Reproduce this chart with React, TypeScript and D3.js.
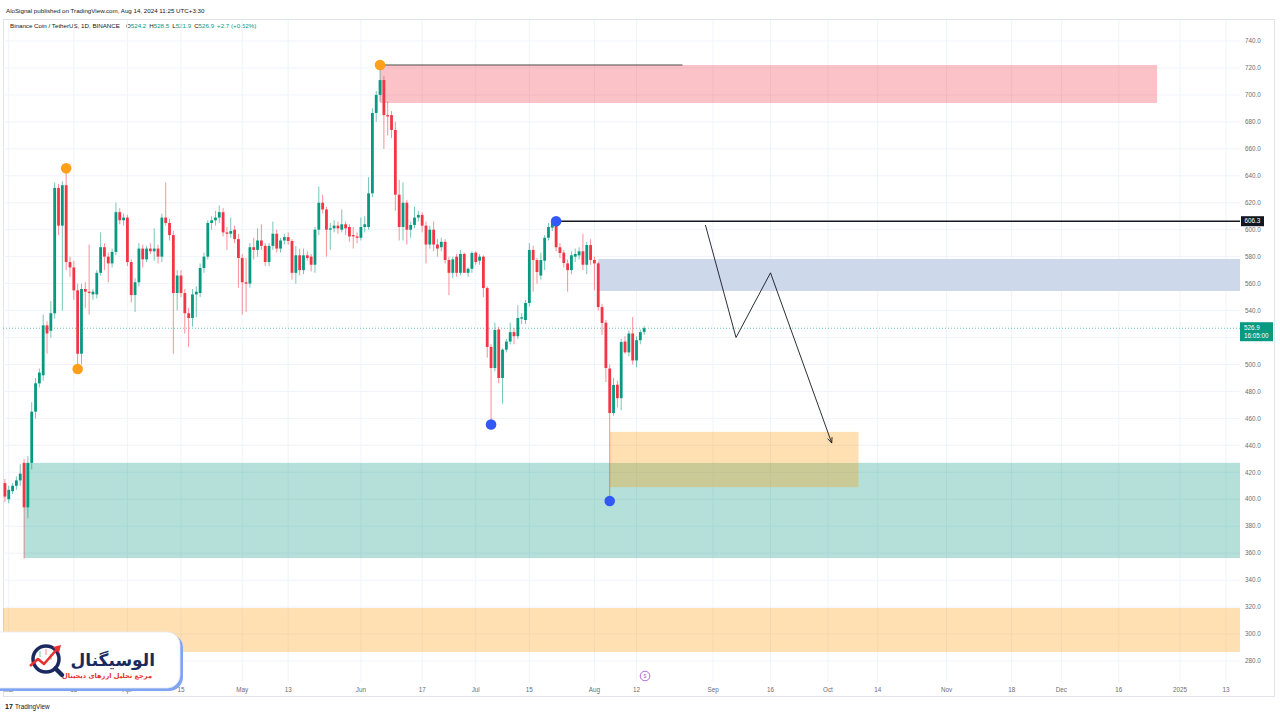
import React from "react";
import * as d3 from "d3";

// ---------- DATA ----------
const START_DATE = "2024-02-29"; // first daily candle
const OPEN = [
  412, 400, 406, 410, 414, 427, 394, 427, 465, 486, 492, 529, 525, 538, 631, 603, 633, 576, 572, 555,
  508, 556, 554, 552, 552, 568, 587, 580, 575, 583.5, 613, 607, 609, 576, 551.5, 561, 586, 578, 586, 584,
  586, 580, 609, 605, 596, 553, 566, 553, 538, 534.5, 552, 553, 571.6, 580, 605, 607, 609, 613, 598, 597,
  600, 593, 579, 561, 560, 587, 585, 592, 588, 576, 588, 597, 586, 592, 594.5, 591.6, 568, 581, 570, 581,
  580, 574, 600, 620, 615, 600, 601, 603, 600, 604, 602, 596, 595, 594, 602, 602, 627, 686.6, 700, 711,
  685, 685, 674, 626, 602, 620, 600, 603.5, 609, 611, 603, 589, 600, 589, 587, 591, 577.5, 568, 580, 568,
  582, 568, 571, 583, 577, 580, 556.7, 513, 497.4, 526, 490, 511, 517, 524, 521, 534, 533, 545.6, 585, 577.5,
  566, 577, 594, 601.5, 605, 587, 583, 575, 570, 580, 581, 584, 574, 588.6, 577.5, 575, 542.6, 531, 497, 464,
  485, 475, 517, 509, 523, 503, 518, 524.2,
];
const HIGH = [
  415, 410, 412, 417, 426, 430, 432, 472, 490, 497, 537, 532, 547, 635, 634, 636, 645, 580, 577, 560,
  560, 561, 589, 556, 570, 598, 590, 583, 586, 620, 616, 612, 611, 578, 564, 590, 589, 588, 590, 601,
  589, 612, 635, 608, 599, 570, 570, 556, 542, 556, 558, 575, 583, 607, 610, 614, 618, 616, 602, 609,
  603, 597, 582, 579, 590, 594, 601, 604, 590, 590, 606, 600, 594, 597, 598, 593, 588, 586, 586, 584,
  582, 602, 632, 626, 617, 605, 607, 606, 615, 606, 604, 602, 598, 609, 610, 639, 690, 703, 722, 714,
  695, 688, 680, 637, 635, 622, 606, 617, 614, 613, 606, 603, 606, 593, 594, 593, 580, 580, 582, 585,
  583, 572, 584, 584, 582, 581, 558, 515, 531, 528, 512, 519, 531, 527, 544, 538, 548, 590, 588, 579,
  583, 596, 605, 606.5, 606, 590, 585, 578, 584, 586, 587, 597, 591, 593, 580, 576, 545, 533, 500, 490,
  488, 519, 521, 525, 535.2, 521, 526, 528.5,
];
const LOW = [
  398, 397, 404, 407, 410, 356, 386, 422, 460, 483, 488, 508, 520, 534, 596, 540, 570, 565, 548, 498,
  500, 542, 537, 548, 549, 566, 570, 561, 572, 581, 604, 603, 573, 546, 539, 558, 572, 576, 582, 577,
  575, 576, 603, 592, 508, 540, 550, 523, 513, 528, 535, 550, 568, 578, 600, 603, 605, 595, 585, 594,
  590, 557, 537, 539, 557, 578, 580, 585, 573, 573, 585, 583, 583, 589, 589, 563, 560, 566, 567, 577,
  569, 568, 596, 612, 580, 585, 598, 597, 598, 596, 591, 586, 590, 592, 598, 600, 624, 680, 695, 660,
  670, 668, 614, 592, 592, 589, 594, 601, 606, 598, 575, 586, 584, 580, 584, 575, 551.5, 564, 565, 566,
  572, 565, 568, 574, 574, 550, 505, 455, 495, 486, 471, 509, 515, 515, 519, 530, 530, 543, 554, 560,
  563, 570, 592, 599, 584, 579, 572, 554, 567, 576, 578, 570, 567, 574, 555, 540, 522, 487, 399.4, 462,
  468, 466, 508, 506, 500, 498, 515, 521.9,
];
const CLOSE = [
  402, 407, 410, 414, 419, 394, 427, 465, 486, 494, 529, 523, 538, 631, 603, 633, 576, 572, 555, 508,
  556, 554, 553, 554, 568, 587, 580, 575, 583.5, 613, 607, 609, 576, 551.5, 561, 586, 578, 586, 584, 586,
  580, 609, 605, 596, 553, 566, 553, 538, 534.5, 552, 554, 571.6, 580, 605, 607, 609, 613, 598, 597, 599,
  593, 579, 561, 560, 587, 585, 592, 588, 576, 588, 597, 586, 592, 594.5, 591.6, 568, 581, 570, 581, 579,
  574, 600, 620, 615, 600, 601, 603, 601, 604, 601, 595, 595, 594, 602, 604, 627, 686.6, 700, 711, 685,
  684, 674, 626, 602, 620, 600, 603.5, 609, 611, 603, 589, 600, 589, 586, 591, 577.5, 568, 578, 568, 582,
  568, 571, 582.7, 576, 580, 556.7, 513, 497.4, 525.6, 490, 511, 517, 524, 521, 534.5, 535, 545.6, 585, 577.5, 568.6,
  577.5, 594, 602, 605, 587, 582.7, 575.3, 570, 581, 582, 584, 574, 588.6, 577.5, 575, 542.6, 530.8, 497.4, 464, 484.8,
  475, 516.7, 509, 523, 503, 518, 524, 526.9,
];

const PRICE_TICKS = d3.range(280, 741, 20);
const TIME_TICK_DATES = [
  "2024-03-01", "2024-03-18", "2024-04-01", "2024-04-15", "2024-05-01", "2024-05-13", "2024-06-01",
  "2024-06-17", "2024-07-01", "2024-07-15", "2024-08-01", "2024-08-12", "2024-09-01", "2024-09-16",
  "2024-10-01", "2024-10-14", "2024-11-01", "2024-11-18", "2024-12-01", "2024-12-16", "2025-01-01",
  "2025-01-13",
];
const TIME_TICK_LABELS = [
  "Mar", "18", "Apr", "15", "May", "13", "Jun", "17", "Jul", "15", "Aug", "12", "Sep", "16", "Oct", "14",
  "Nov", "18", "Dec", "16", "2025", "13",
];

// zones: [startDate, endDate|null (to right edge), lowPrice, highPrice]
const PINK_ZONE = ["2024-06-06", "2024-12-26", 694, 722.2];
const BLUE_ZONE = ["2024-08-02", null, 554.5, 578.3];
const ORANGE_ZONE = ["2024-08-05", "2024-10-09", 409, 450];
const TEAL_ZONE = ["2024-03-05", null, 356.4, 427];
const LOW_ORANGE_ZONE = [null, null, 286.7, 319.3];

const HIGH_LINE = ["2024-06-06", "2024-08-24", 722.2];
const RES_LINE = ["2024-07-22", null, 606.3];

const PATH_DATES = ["2024-08-30", "2024-09-07", "2024-09-16", "2024-10-02"];
const PATH_PRICES = [603.5, 520, 568, 441.7];

const ORANGE_DOT_DATES = ["2024-03-16", "2024-03-19", "2024-06-06"];
const ORANGE_DOT_PRICES = [645.5, 496.6, 722.2];
const BLUE_DOT_DATES = ["2024-07-05", "2024-07-22", "2024-08-05"];
const BLUE_DOT_PRICES = [455.5, 606.3, 398.7];

const LAST_PRICE = 526.9;

// ---------- LAYOUT ----------
const W = 1280;
const H = 720;
const PLOT_L = 3;
const PLOT_R = 1240;
const GREEN = "#089981";
const RED = "#f23645";
const GRID = "#f0f3fa";
const AXIS_TXT = "#6a6d78";
const FONT = "'Liberation Sans', Arial, sans-serif";

const x = d3
  .scaleUtc()
  .domain([new Date("2024-04-15T00:00:00Z"), new Date("2025-01-13T00:00:00Z")])
  .range([181, 1226]);
const y = d3.scaleLinear().domain([280, 740]).range([661, 41]);

const d = (s: string) => new Date(s + "T00:00:00Z");
const start = d(START_DATE);

const candles = OPEN.map((o, i) => ({
  date: d3.utcDay.offset(start, i),
  o,
  h: HIGH[i],
  l: LOW[i],
  c: CLOSE[i],
}));

function zoneRect(z: any[], fill: string, key: string) {
  const x0 = z[0] ? x(d(z[0])) : PLOT_L;
  const x1 = z[1] ? x(d(z[1])) : PLOT_R;
  const y0 = y(z[3]);
  const y1 = y(z[2]);
  return <rect key={key} x={x0} y={y0} width={x1 - x0} height={y1 - y0} fill={fill} />;
}

export default function App() {
  const bw = 2.8;
  const lineGen = d3
    .line<number>()
    .x((_, i) => x(d(PATH_DATES[i])))
    .y((p) => y(p));
  const n = PATH_DATES.length;
  const ex = x(d(PATH_DATES[n - 1]));
  const ey = y(PATH_PRICES[n - 1]);
  const px = x(d(PATH_DATES[n - 2]));
  const py = y(PATH_PRICES[n - 2]);
  const ang = Math.atan2(ey - py, ex - px);
  const ah = 6;
  const a1 = [ex - ah * Math.cos(ang - 0.4), ey - ah * Math.sin(ang - 0.4)];
  const a2 = [ex - ah * Math.cos(ang + 0.4), ey - ah * Math.sin(ang + 0.4)];

  const lastY = y(LAST_PRICE);
  const visibleTicks = PRICE_TICKS.filter((p) => Math.abs(y(p) - (lastY + 3.5)) > 11);

  return (
    <svg width={W} height={H} style={{ display: "block", position: "absolute", left: 0, top: 0 }} fontFamily={FONT}>
      <rect x={0} y={0} width={W} height={H} fill="#ffffff" />

      {/* header */}
      <text x={6} y={13} fontSize={6.2} fill="#131722">
        AloSignal published on TradingView.com, Aug 14, 2024 11:25 UTC+3:30
      </text>
      <rect x={3.5} y={19.5} width={1271} height={677} fill="none" stroke="#e0e3eb" strokeWidth={1} />
      <text x={10} y={27.5} fontSize={6.2} fill="#131722">
        Binance Coin / TetherUS, 1D, BINANCE
        <tspan dx={6} fill="#131722">O</tspan>
        <tspan fill={GREEN}>524.2</tspan>
        <tspan dx={3} fill="#131722">H</tspan>
        <tspan fill={GREEN}>528.5</tspan>
        <tspan dx={3} fill="#131722">L</tspan>
        <tspan fill={GREEN}>521.9</tspan>
        <tspan dx={3} fill="#131722">C</tspan>
        <tspan fill={GREEN}>526.9</tspan>
        <tspan dx={3} fill={GREEN}>+2.7 (+0.52%)</tspan>
      </text>

      {/* grid */}
      <g>
        {PRICE_TICKS.map((p) => (
          <line key={"hg" + p} x1={PLOT_L} x2={PLOT_R} y1={y(p)} y2={y(p)} stroke={GRID} strokeWidth={1} />
        ))}
        {TIME_TICK_DATES.map((t) => (
          <line key={"vg" + t} x1={x(d(t))} x2={x(d(t))} y1={20} y2={682} stroke={GRID} strokeWidth={1} />
        ))}
      </g>

      {/* zones */}
      {zoneRect(LOW_ORANGE_ZONE, "rgba(255,152,0,0.3)", "lo")}
      {zoneRect(TEAL_ZONE, "rgba(8,153,129,0.3)", "teal")}
      {zoneRect(ORANGE_ZONE, "rgba(255,152,0,0.3)", "or")}
      {zoneRect(BLUE_ZONE, "#cdd8ea", "blue")}
      {zoneRect(PINK_ZONE, "rgba(242,54,69,0.3)", "pink")}

      {/* current price dotted line */}
      <line
        x1={PLOT_L}
        x2={PLOT_R}
        y1={lastY}
        y2={lastY}
        stroke={GREEN}
        strokeOpacity={0.6}
        strokeWidth={1}
        strokeDasharray="1 2"
      />

      {/* candles */}
      <g>
        {candles.map((k, i) => {
          const cx = x(k.date);
          const up = k.c >= k.o;
          const col = up ? GREEN : RED;
          const top = y(Math.max(k.o, k.c));
          const bot = y(Math.min(k.o, k.c));
          return (
            <g key={i}>
              <line x1={cx} x2={cx} y1={y(k.h)} y2={y(k.l)} stroke={col} strokeOpacity={0.55} strokeWidth={1} />
              <rect x={cx - bw / 2} y={top} width={bw} height={Math.max(1, bot - top)} fill={col} />
            </g>
          );
        })}
      </g>

      {/* lines */}
      <line
        x1={x(d(HIGH_LINE[0] as string))}
        x2={x(d(HIGH_LINE[1] as string))}
        y1={y(HIGH_LINE[2] as number)}
        y2={y(HIGH_LINE[2] as number)}
        stroke="#4a4a4a"
        strokeWidth={1}
      />
      <line
        x1={x(d(RES_LINE[0] as string))}
        x2={PLOT_R}
        y1={y(RES_LINE[2] as number)}
        y2={y(RES_LINE[2] as number)}
        stroke="#131722"
        strokeWidth={1.5}
      />

      {/* projected path */}
      <path d={lineGen(PATH_PRICES) || ""} fill="none" stroke="#131722" strokeWidth={0.9} />
      <path d={`M${a1[0]},${a1[1]}L${ex},${ey}L${a2[0]},${a2[1]}`} fill="none" stroke="#131722" strokeWidth={0.9} />

      {/* dots */}
      {ORANGE_DOT_DATES.map((t, i) => (
        <circle key={"od" + i} cx={x(d(t))} cy={y(ORANGE_DOT_PRICES[i])} r={5.3} fill="#ff9f1a" />
      ))}
      {BLUE_DOT_DATES.map((t, i) => (
        <circle key={"bd" + i} cx={x(d(t))} cy={y(BLUE_DOT_PRICES[i])} r={5.3} fill="#3259f5" />
      ))}

      {/* price axis */}
      <g fontSize={6.3} fill={AXIS_TXT}>
        {visibleTicks.map((p) => (
          <text key={"pl" + p} x={1253} y={y(p) + 2.2} textAnchor="middle">
            {p.toFixed(1)}
          </text>
        ))}
      </g>
      <rect x={1241} y={y(606.3) - 5} width={23} height={10} fill="#131722" />
      <text x={1252.5} y={y(606.3) + 2.2} textAnchor="middle" fontSize={6.3} fill="#ffffff">
        606.3
      </text>
      <rect x={1240} y={lastY - 6} width={33} height={19} fill={GREEN} />
      <text x={1244} y={lastY + 2} fontSize={6.3} fill="#ffffff">
        {LAST_PRICE.toFixed(1)}
      </text>
      <text x={1244} y={lastY + 10} fontSize={6.3} fill="#ffffff">
        16:05:00
      </text>

      {/* time axis */}
      <g fontSize={6.3} fill={AXIS_TXT}>
        {TIME_TICK_DATES.map((t, i) => (
          <text key={"tl" + t} x={x(d(t))} y={692} textAnchor="middle">
            {TIME_TICK_LABELS[i]}
          </text>
        ))}
      </g>

      {/* events icon */}
      <circle cx={645} cy={676} r={4.8} fill="#ffffff" stroke="#b56ad8" strokeWidth={1} />
      <text x={645} y={678} fontSize={5} textAnchor="middle" fill="#b56ad8">$</text>

      {/* logo */}
      <rect x={-20} y={634} width={203} height={57} rx={14} fill="#7ea4f2" />
      <rect x={-20} y={632} width={200} height={56} rx={13} fill="#ffffff" stroke="#e4e8f2" strokeWidth={0.8} />
      <g>
        <circle cx={46} cy={659} r={13} fill="#ffffff" stroke="#1b2a5e" strokeWidth={3.5} />
        <line x1={55.5} y1={668.5} x2={62} y2={675} stroke="#1b2a5e" strokeWidth={4.5} strokeLinecap="round" />
        <line x1={40} y1={651} x2={40} y2={657} stroke="#7cc3a8" strokeWidth={1} />
        <line x1={46} y1={649} x2={46} y2={655} stroke="#f08a8a" strokeWidth={1} />
        <line x1={51} y1={654} x2={51} y2={660} stroke="#7cc3a8" strokeWidth={1} />
        <polyline points="30,666 38,659 44,664 58,648" fill="none" stroke="#e8312f" strokeWidth={2.6} strokeLinejoin="round" />
        <polygon points="61,645 53,647 59,653" fill="#e8312f" />
      </g>
      <text x={155} y={666} textAnchor="end" fontSize={17} fontWeight="bold" fill="#1b2a5e" fontFamily="'DejaVu Sans', sans-serif">
        الوسیگنال
      </text>
      <text x={152} y={678} textAnchor="end" fontSize={6.6} fontWeight="bold" fill="#e8312f" fontFamily="'DejaVu Sans', sans-serif">
        مرجع تحلیل ارزهای دیجیتال
      </text>

      {/* footer */}
      <text x={5} y={709} fontSize={7} fontWeight="bold" fill="#131722">17</text>
      <text x={15} y={709} fontSize={6.3} fill="#131722">TradingView</text>
    </svg>
  );
}
